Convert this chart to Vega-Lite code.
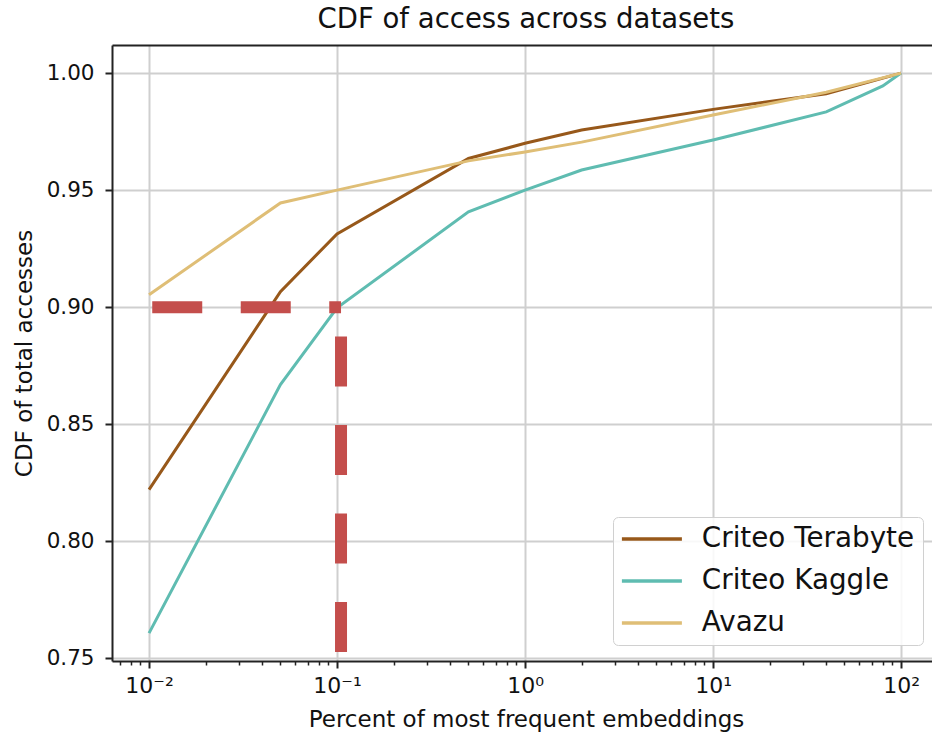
{
  "$schema": "https://vega.github.io/schema/vega-lite/v6.json",
  "width": 820,
  "height": 616,
  "autosize": {"type": "none"},
  "padding": {"left": 112, "top": 45, "right": 0, "bottom": 77},
  "background": "white",
  "title": {"text": "CDF of access across datasets", "font": "DejaVu Sans", "fontSize": 27.5, "fontWeight": "normal", "color": "#111", "offset": 12, "dx": 4},
  "config": {
    "view": {"stroke": null},
    "font": "DejaVu Sans"
  },
  "datasets": {
    "curves": [
      {"dataset": "Criteo Terabyte", "pct": 0.01, "cdf": 0.822},
      {"dataset": "Criteo Terabyte", "pct": 0.05, "cdf": 0.9066},
      {"dataset": "Criteo Terabyte", "pct": 0.1, "cdf": 0.9313},
      {"dataset": "Criteo Terabyte", "pct": 0.5, "cdf": 0.9635},
      {"dataset": "Criteo Terabyte", "pct": 1, "cdf": 0.970},
      {"dataset": "Criteo Terabyte", "pct": 2, "cdf": 0.9757},
      {"dataset": "Criteo Terabyte", "pct": 10, "cdf": 0.9845},
      {"dataset": "Criteo Terabyte", "pct": 40, "cdf": 0.9912},
      {"dataset": "Criteo Terabyte", "pct": 100, "cdf": 1.0},
      {"dataset": "Criteo Kaggle", "pct": 0.01, "cdf": 0.7607},
      {"dataset": "Criteo Kaggle", "pct": 0.05, "cdf": 0.8669},
      {"dataset": "Criteo Kaggle", "pct": 0.1, "cdf": 0.8997},
      {"dataset": "Criteo Kaggle", "pct": 0.5, "cdf": 0.9407},
      {"dataset": "Criteo Kaggle", "pct": 1, "cdf": 0.950},
      {"dataset": "Criteo Kaggle", "pct": 2, "cdf": 0.9586},
      {"dataset": "Criteo Kaggle", "pct": 10, "cdf": 0.9714},
      {"dataset": "Criteo Kaggle", "pct": 40, "cdf": 0.9834},
      {"dataset": "Criteo Kaggle", "pct": 80, "cdf": 0.9945},
      {"dataset": "Criteo Kaggle", "pct": 100, "cdf": 1.0},
      {"dataset": "Avazu", "pct": 0.01, "cdf": 0.9053},
      {"dataset": "Avazu", "pct": 0.05, "cdf": 0.9445},
      {"dataset": "Avazu", "pct": 0.1, "cdf": 0.950},
      {"dataset": "Avazu", "pct": 0.5, "cdf": 0.9625},
      {"dataset": "Avazu", "pct": 1, "cdf": 0.9663},
      {"dataset": "Avazu", "pct": 2, "cdf": 0.9705},
      {"dataset": "Avazu", "pct": 10, "cdf": 0.9821},
      {"dataset": "Avazu", "pct": 40, "cdf": 0.9918},
      {"dataset": "Avazu", "pct": 100, "cdf": 1.0}
    ],
    "guides": [
      {"dir": "h", "x": 0.0104, "x2": 0.105, "y": 0.9, "y2": 0.9},
      {"dir": "v", "x": 0.105, "x2": 0.105, "y": 0.7526, "y2": 0.9}
    ]
  },
  "layer": [
    {
      "data": {"name": "curves"},
      "mark": {"type": "line", "strokeWidth": 3, "clip": true},
      "encoding": {
        "x": {
          "field": "pct", "type": "quantitative",
          "scale": {"type": "log", "domain": [0.006353, 146.1], "nice": false, "zero": false},
          "axis": {
            "orient": "bottom",
            "values": [0.01, 0.1, 1, 10, 100],
            "labelExpr": "'10' + (datum.value < 0.05 ? '⁻²' : datum.value < 0.5 ? '⁻¹' : datum.value < 5 ? '⁰' : datum.value < 50 ? '¹' : '²')",
            "labelFont": "DejaVu Sans", "labelFontSize": 22, "labelColor": "#111", "labelPadding": 7,
            "tickSize": 7, "tickWidth": 2, "tickColor": "#222",
            "domain": true, "domainColor": "#222", "domainWidth": 2,
            "grid": true, "gridColor": "#cfcfcf", "gridWidth": 2,
            "title": "Percent of most frequent embeddings",
            "titleFont": "DejaVu Sans", "titleFontSize": 23, "titleFontWeight": "normal", "titleColor": "#111",
            "titlePadding": 12, "titleX": 414
          }
        },
        "y": {
          "field": "cdf", "type": "quantitative",
          "scale": {"domain": [0.7488, 1.012], "nice": false, "zero": false},
          "axis": {
            "values": [0.75, 0.8, 0.85, 0.9, 0.95, 1.0],
            "format": ".2f",
            "labelFont": "DejaVu Sans", "labelFontSize": 21.5, "labelColor": "#111", "labelPadding": 11,
            "tickSize": 7, "tickWidth": 2, "tickColor": "#222",
            "domain": true, "domainColor": "#222", "domainWidth": 2,
            "grid": true, "gridColor": "#cfcfcf", "gridWidth": 2,
            "title": "CDF of total accesses",
            "titleFont": "DejaVu Sans", "titleFontSize": 23, "titleFontWeight": "normal", "titleColor": "#111",
            "titlePadding": 10
          }
        },
        "color": {
          "field": "dataset", "type": "nominal",
          "scale": {"domain": ["Criteo Terabyte", "Criteo Kaggle", "Avazu"], "range": ["#97581a", "#5fbcb1", "#dfbe76"]},
          "legend": {
            "title": null, "orient": "none", "legendX": 501, "legendY": 472,
            "symbolType": "M-3,0H3", "symbolSize": 400, "symbolStrokeWidth": 3.5, "symbolOffset": 17,
            "labelFont": "DejaVu Sans", "labelFontSize": 27.8, "labelColor": "#111", "labelOffset": 36, "labelLimit": 400,
            "padding": 8, "rowPadding": 13,
            "fillColor": "rgba(255,255,255,0.85)", "strokeColor": "#d0d0d0", "cornerRadius": 5
          }
        }
      }
    },
    {
      "data": {"name": "guides"},
      "transform": [{"filter": "datum.dir == 'h'"}],
      "mark": {"type": "rule", "color": "#c44e4c", "strokeWidth": 12, "strokeDash": [50, 38.5], "strokeCap": "butt"},
      "encoding": {
        "x": {
          "field": "x", "type": "quantitative",
          "axis": {
            "orient": "bottom",
            "values": [0.007, 0.008, 0.009, 0.02, 0.03, 0.04, 0.05, 0.06, 0.07, 0.08, 0.09, 0.2, 0.3, 0.4, 0.5, 0.6, 0.7, 0.8, 0.9, 2, 3, 4, 5, 6, 7, 8, 9, 20, 30, 40, 50, 60, 70, 80, 90],
            "labels": false, "grid": false, "domain": false,
            "tickSize": 4, "tickWidth": 1.5, "tickColor": "#222",
            "title": null
          }
        },
        "x2": {"field": "x2"},
        "y": {"field": "y", "type": "quantitative"},
        "y2": {"field": "y2"}
      }
    },
    {
      "data": {"name": "guides"},
      "transform": [{"filter": "datum.dir == 'v'"}],
      "mark": {"type": "rule", "color": "#c44e4c", "strokeWidth": 12, "strokeDash": [50, 38.5], "strokeCap": "butt"},
      "encoding": {
        "x": {
          "field": "x", "type": "quantitative",
          "axis": {
            "orient": "top",
            "labels": false, "grid": false, "ticks": false,
            "domain": true, "domainColor": "#222", "domainWidth": 2,
            "title": null
          }
        },
        "x2": {"field": "x2"},
        "y": {"field": "y", "type": "quantitative"},
        "y2": {"field": "y2"}
      }
    }
  ],
  "resolve": {"axis": {"x": "independent"}}
}
